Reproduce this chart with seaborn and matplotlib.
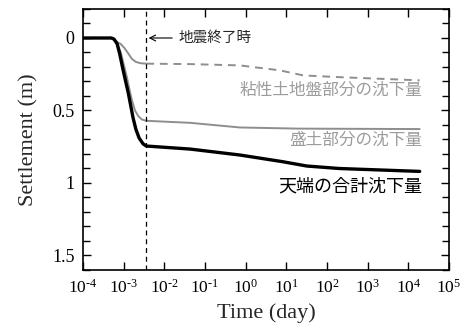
import numpy as np
import pandas as pd
import matplotlib
matplotlib.use('Agg')
import matplotlib.pyplot as plt
from matplotlib.ticker import MultipleLocator, FixedLocator, NullLocator
import seaborn as sns

sns.set_style('ticks')
plt.rcParams['font.family'] = ['Liberation Serif', 'Noto Sans CJK JP']
plt.rcParams['mathtext.fontset'] = 'custom'
plt.rcParams['mathtext.rm'] = 'Liberation Serif'
plt.rcParams['mathtext.it'] = 'Liberation Serif:italic'

JP = ['Noto Sans CJK JP', 'DejaVu Sans']

# 地震終了時 (day)
eq_end = 3.6e-3

# 天端の合計沈下量
t_total = [1e-4, 5.0e-4, 5.8e-4, 6.9e-4, 8.0e-4, 9.5e-4, 1.1e-3, 1.3e-3, 1.5e-3,
           1.7e-3, 2.0e-3, 2.4e-3, 3.0e-3, 3.6e-3,
           4.3e-2, 0.72, 8.1, 32, 200, 1.9e4]
s_total = [0.0, 0.0, 0.008, 0.04, 0.11, 0.21, 0.29, 0.38, 0.47,
           0.55, 0.63, 0.69, 0.73, 0.745,
           0.766, 0.807, 0.853, 0.883, 0.90, 0.92]

# 盛土部分の沈下量
t_fill = [1e-4, 5.0e-4, 5.8e-4, 6.9e-4, 8.5e-4, 1.0e-3, 1.2e-3, 1.4e-3, 1.6e-3,
          1.9e-3, 2.3e-3, 2.8e-3, 3.6e-3,
          4.3e-2, 0.72, 20, 1.9e4]
s_fill = [0.0, 0.0, 0.008, 0.035, 0.10, 0.18, 0.27, 0.36, 0.43,
          0.50, 0.54, 0.562, 0.571,
          0.585, 0.617, 0.625, 0.628]

# 粘性土地盤部分の沈下量
t_clay = [1e-4, 5.0e-4, 5.8e-4, 7.0e-4, 8.5e-4, 1.05e-3, 1.3e-3, 1.6e-3,
          2.0e-3, 2.6e-3, 3.6e-3,
          4.3e-2, 0.72, 6.9, 26, 200, 1.9e4]
s_clay = [0.0, 0.0, 0.01, 0.028, 0.042, 0.07, 0.107, 0.145,
          0.165, 0.174, 0.177,
          0.18, 0.189, 0.223, 0.258, 0.27, 0.292]

x_ticks = [1e-4, 1e-3, 1e-2, 1e-1, 1e0, 1e1, 1e2, 1e3, 1e4, 1e5]
x_ticklabels = [r'$10^{\text{-}4}$', r'$10^{\text{-}3}$', r'$10^{\text{-}2}$',
                r'$10^{\text{-}1}$', r'$10^{0}$', r'$10^{1}$', r'$10^{2}$',
                r'$10^{3}$', r'$10^{4}$', r'$10^{5}$']
y_ticks = [0, 0.5, 1, 1.5]
y_ticklabels = ['0', '0.5', '1', '1.5']

line_gray = '#8e8e8e'
text_gray = '#9c9c9c'

fig = plt.figure(figsize=(4.75, 3.29), dpi=100)
ax = fig.add_axes([83/475, 1 - 270/329, 366/475, 261/329])

def draw(t, s, color, lw, dashed_after=False):
    df = pd.DataFrame({'t': t, 's': s})
    if dashed_after:
        pre = df[df.t <= eq_end]
        post = df[df.t >= eq_end]
        sns.lineplot(data=pre, x='t', y='s', ax=ax, color=color, lw=lw,
                     estimator=None, sort=False)
        sns.lineplot(data=post, x='t', y='s', ax=ax, color=color, lw=lw,
                     estimator=None, sort=False, linestyle=(0, (4, 3)))
    else:
        sns.lineplot(data=df, x='t', y='s', ax=ax, color=color, lw=lw,
                     estimator=None, sort=False)

draw(t_clay, s_clay, line_gray, 1.4, dashed_after=True)
draw(t_fill, s_fill, line_gray, 1.4)
draw(t_total, s_total, 'black', 2.4)

ax.axvline(eq_end, color='black', lw=0.9, linestyle=(0, (4, 3)))

ax.set_xscale('log')
ax.set_xlim(1e-4, 1e5)
ax.set_ylim(1.6, -0.2)
ax.xaxis.set_major_locator(FixedLocator(x_ticks))
ax.xaxis.set_minor_locator(NullLocator())
ax.set_xticklabels(x_ticklabels)
ax.yaxis.set_major_locator(FixedLocator(y_ticks))
ax.yaxis.set_minor_locator(MultipleLocator(0.1))
ax.set_yticklabels(y_ticklabels)

ax.tick_params(which='both', direction='in', top=True, right=True,
               width=1.0, colors='black')
ax.tick_params(axis='y', labelsize=13)
ax.tick_params(axis='x', labelsize=12.5)
ax.tick_params(which='major', length=6, pad=6)
ax.tick_params(which='minor', length=5)
for sp in ax.spines.values():
    sp.set_linewidth(1.2)
    sp.set_color('black')

ax.set_xlabel('Time (day)', fontsize=16, labelpad=5)
ax.set_ylabel('Settlement (m)', fontsize=16, labelpad=10)

ax.annotate('地震終了時', xy=(4.1e-3, 0.0), xytext=(0.022, 0.0),
            fontsize=10.5, family=JP, va='center', ha='left',
            arrowprops=dict(arrowstyle='->', color='black', lw=0.8,
                            shrinkA=2, shrinkB=0))

ax.text(2.2e4, 0.36, '粘性土地盤部分の沈下量', family=JP, fontsize=12,
        color=text_gray, ha='right', va='center')
ax.text(2.2e4, 0.704, '盛土部分の沈下量', family=JP, fontsize=12,
        color=text_gray, ha='right', va='center')
ax.text(2.2e4, 1.027, '天端の合計沈下量', family=JP, fontsize=13,
        color='black', ha='right', va='center')

fig.savefig('out.png', dpi=100)
